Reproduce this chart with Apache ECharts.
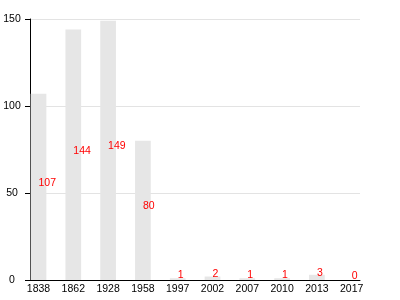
<!DOCTYPE html>
<html>
<head>
<meta charset="utf-8">
<script src="https://cdn.jsdelivr.net/npm/echarts@6/dist/echarts.min.js"></script>
<style>html,body{margin:0;padding:0;background:#fff;}#c{width:400px;height:300px;}</style>
</head>
<body>
<div id="c"></div>
<script>
var categories = ['1838','1862','1928','1958','1997','2002','2007','2010','2013','2017'];
var values = [107, 144, 149, 80, 1, 2, 1, 1, 3, 0];
var yTicks = [0, 50, 100, 150];

var FONT = 'Liberation Sans, Arial, sans-serif';
var chart = echarts.init(document.getElementById('c'), null, {renderer: 'canvas'});
chart.setOption({
  animation: false,
  backgroundColor: '#fff',
  grid: [
    {left: 30, right: 40, top: 19, bottom: 20},
    {left: 21.1, right: 30.9, top: 19, bottom: 20}
  ],
  xAxis: [
    {type: 'category', gridIndex: 0, data: categories,
     axisLine: {show: true, lineStyle: {color: '#000', width: 1}},
     axisTick: {show: false}, axisLabel: {show: false}, splitLine: {show: false}},
    {type: 'category', gridIndex: 1, data: categories, boundaryGap: true,
     axisLine: {show: false}, axisTick: {show: false},
     axisLabel: {show: true, color: '#000', fontSize: 10.5, fontFamily: FONT, margin: 4, interval: 0}}
  ],
  yAxis: [
    {type: 'value', gridIndex: 0, min: yTicks[0], max: yTicks[yTicks.length-1], interval: 50,
     axisLine: {show: true, lineStyle: {color: '#000', width: 1}},
     axisTick: {show: true, length: 5, lineStyle: {color: '#000'}},
     axisLabel: {color: '#000', fontSize: 10.5, fontFamily: FONT, margin: 18, align: 'center'},
     splitLine: {show: true, lineStyle: {color: '#e3e3e3', width: 1}}},
    {type: 'value', gridIndex: 1, min: yTicks[0], max: yTicks[yTicks.length-1], show: false,
     splitLine: {show: false}}
  ],
  series: [{
    type: 'bar', xAxisIndex: 1, yAxisIndex: 1,
    data: values, barWidth: 15.7,
    itemStyle: {color: '#e6e6e6'},
    label: {show: true, position: 'inside', align: 'left', offset: [0, -4],
            color: '#ff0000', fontSize: 10.5, fontFamily: FONT}
  }]
});
</script>
</body>
</html>
